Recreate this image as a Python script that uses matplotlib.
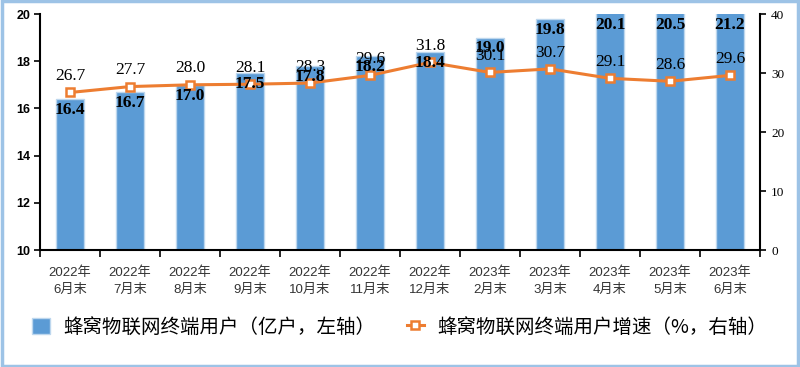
import matplotlib.pyplot as plt
from matplotlib.patches import Rectangle, Patch
from matplotlib.lines import Line2D
from matplotlib.transforms import offset_copy

plt.rcParams['font.family'] = ['Noto Sans CJK SC', 'DejaVu Sans']

months = ["2022年\n6月末", "2022年\n7月末", "2022年\n8月末", "2022年\n9月末",
          "2022年\n10月末", "2022年\n11月末", "2022年\n12月末", "2023年\n2月末",
          "2023年\n3月末", "2023年\n4月末", "2023年\n5月末", "2023年\n6月末"]
users = [16.4, 16.7, 17.0, 17.5, 17.8, 18.2, 18.4, 19.0, 19.8, 20.1, 20.5, 21.2]
growth = [26.7, 27.7, 28.0, 28.1, 28.3, 29.6, 31.8, 30.1, 30.7, 29.1, 28.6, 29.6]

BAR = "#5B9BD5"
LINE = "#ED7D31"

fig = plt.figure(figsize=(8, 3.67), dpi=100)
ax = fig.add_axes([0.05, 0.3188, 0.90, 0.643])
ax2 = ax.twinx()

x = list(range(len(months)))
ax.bar(x, users, width=0.47, color=BAR, edgecolor="#BDD7EE", linewidth=1.0, zorder=2)
ax.set_ylim(10, 20)
ax.set_xlim(-0.5, len(months) - 0.5)
ax.set_yticks([10, 12, 14, 16, 18, 20])
ax.tick_params(axis='y', direction='out', length=4, width=1.2, labelsize=9, pad=3)
for t in ax.get_yticklabels():
    t.set_fontfamily('Liberation Sans')
    t.set_fontweight('bold')

# boundary ticks, month labels centred under each bar
ax.set_xticks([i - 0.5 for i in range(len(months) + 1)])
ax.set_xticklabels([])
ax.tick_params(axis='x', direction='out', length=5, width=1.2)
month_tf = offset_copy(ax.transData, fig=fig, x=0, y=-12, units='points')
for i, m in enumerate(months):
    ax.text(i, 10, m, transform=month_tf, ha='center', va='top',
            fontsize=9.5, color="#333333", linespacing=1.5,
            fontfamily=['Liberation Sans', 'Noto Sans CJK SC'])

ax2.plot(x, growth, color=LINE, linewidth=2.2, marker='s', markersize=6,
         markerfacecolor='white', markeredgecolor=LINE, markeredgewidth=1.8, zorder=4)
ax2.set_ylim(0, 40)
ax2.set_yticks([0, 10, 20, 30, 40])
ax2.tick_params(axis='y', direction='out', length=4, width=1.2, labelsize=9.5, pad=4)
for t in ax2.get_yticklabels():
    t.set_fontfamily('Liberation Serif')

# bar value labels drawn on the top axes so they sit over the line
for i, v in enumerate(users):
    tf = offset_copy(ax.transData, fig=fig, x=0, y=-2, units='points')
    ax2.text(i, min(v, 20), f"{v:.1f}", transform=tf,
             ha='center', va='top', fontsize=12.5, fontweight='bold',
             fontfamily='Liberation Serif', color='black', zorder=6)

for i, v in enumerate(growth):
    ax2.annotate(f"{v:.1f}", (i, v), xytext=(0, 6), textcoords='offset points',
                 ha='center', va='bottom', fontsize=12.5,
                 fontfamily='Liberation Serif', color='black', zorder=6)

for a in (ax, ax2):
    a.spines['top'].set_visible(False)
    for s in ('left', 'right', 'bottom'):
        a.spines[s].set_linewidth(1.5)
ax.spines['right'].set_visible(False)
ax2.spines['left'].set_visible(False)
ax2.spines['bottom'].set_visible(False)

handles = [
    Patch(facecolor=BAR, edgecolor="#BDD7EE"),
    Line2D([0], [0], color=LINE, linewidth=2.2, marker='s', markersize=6,
           markerfacecolor='white', markeredgecolor=LINE, markeredgewidth=1.8),
]
fig.legend(handles, ["蜂窝物联网终端用户（亿户，左轴）", "蜂窝物联网终端用户增速（%，右轴）"],
           loc='center', bbox_to_anchor=(0.5, 0.109), ncol=2, frameon=False,
           fontsize=14, columnspacing=1.6, handlelength=0.9, handleheight=0.9,
           handletextpad=0.7)

fig.patches.append(Rectangle((0.002, 0.004), 0.996, 0.992, transform=fig.transFigure,
                             fill=False, edgecolor="#9DC3E6", linewidth=2.5))

fig.savefig("out.png", dpi=100)
